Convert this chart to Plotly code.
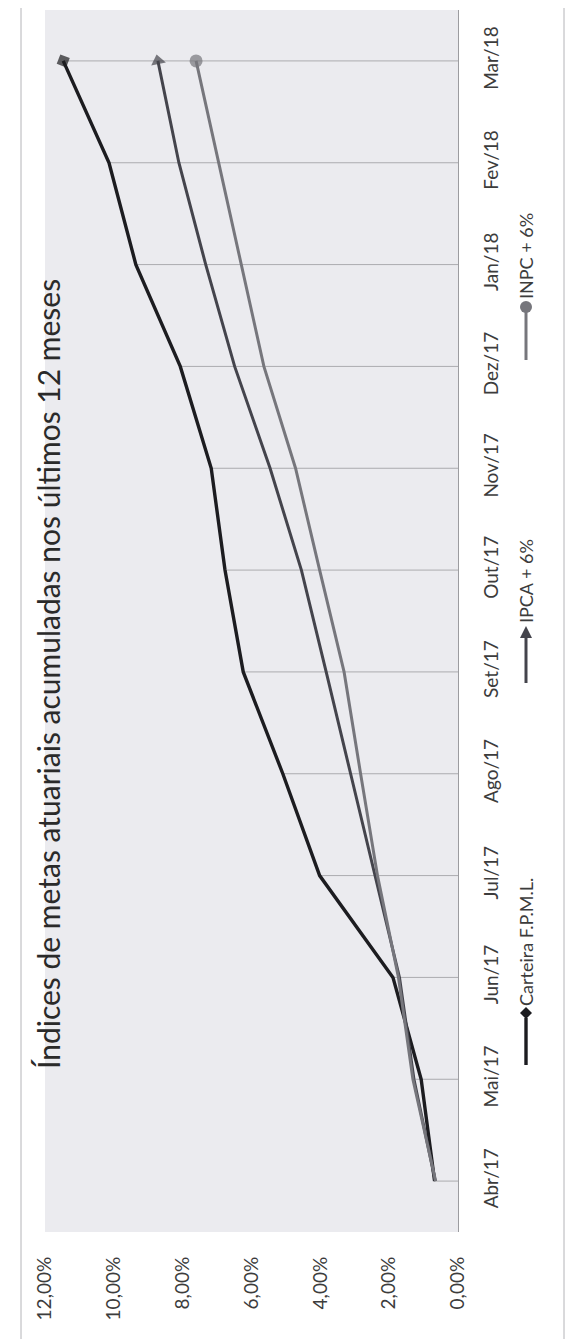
import plotly.graph_objects as go

# ---------------- data ----------------
categories = ["Abr/17", "Mai/17", "Jun/17", "Jul/17", "Ago/17", "Set/17",
              "Out/17", "Nov/17", "Dez/17", "Jan/18", "Fev/18", "Mar/18"]
carteira = [0.68, 1.07, 1.89, 4.02, 5.09, 6.24, 6.77, 7.17, 8.07, 9.36, 10.14, 11.47]
ipca = [0.66, 1.28, 1.70, 2.42, 3.12, 3.83, 4.55, 5.46, 6.49, 7.33, 8.11, 8.72]
inpc = [0.65, 1.31, 1.73, 2.34, 2.83, 3.31, 4.02, 4.72, 5.64, 6.29, 6.95, 7.61]
value_ticks = [0, 2, 4, 6, 8, 10, 12]
value_tick_labels = ["0,00%", "2,00%", "4,00%", "6,00%", "8,00%", "10,00%", "12,00%"]
series_names = ["Carteira F.P.M.L.", "IPCA + 6%", "INPC + 6%"]
title_text = "Índices de metas atuariais acumuladas nos últimos 12 meses"

# ---------------- layout geometry ----------------
W, H = 573, 1339
L_PX, R_PX, T_PX, B_PX = 37, 450, 2, 1224
FONT = "Lato, 'Open Sans', sans-serif"


def px_x(px):
    return (px - L_PX) / (R_PX - L_PX)


def px_y(py):
    return (B_PX - py) / (B_PX - T_PX)


fig = go.Figure()

# drop lines: from the highest series value down to the category axis
peaks = [max(a, b, c) for a, b, c in zip(carteira, ipca, inpc)]
drop_x, drop_y = [], []
for cat, pk in zip(categories, peaks):
    drop_x += [pk, 0, None]
    drop_y += [cat, cat, None]
fig.add_trace(go.Scatter(x=drop_x, y=drop_y, mode="lines",
                         line=dict(color="#ababaf", width=1),
                         hoverinfo="skip", showlegend=False))

styles = [
    dict(color="#1c1c20", width=3.4, symbol="diamond", size=11),
    dict(color="#44444c", width=3.0, symbol="triangle-up", size=13),
    dict(color="#76767c", width=3.0, symbol="circle", size=13),
]
n = len(categories)
for name, vals, st in zip(series_names, [carteira, ipca, inpc], styles):
    fig.add_trace(go.Scatter(
        x=vals, y=categories, name=name, mode="lines+markers",
        line=dict(color=st["color"], width=st["width"]),
        marker=dict(symbol=st["symbol"], size=[0] * (n - 1) + [st["size"]],
                    color=st["color"], angleref="previous",
                    line=dict(width=0)),
        showlegend=False,
    ))

fig.update_xaxes(
    range=[12, 0], tickvals=value_ticks, ticktext=value_tick_labels,
    tickangle=-90, showgrid=False, zeroline=False, showline=False, ticks="",
    ticklabelstandoff=20, tickfont=dict(family=FONT, size=19, color="#3c3c3c"),
    fixedrange=True,
)
fig.update_yaxes(
    type="category", categoryorder="array", categoryarray=categories,
    range=[-0.5, n - 0.5], side="right", tickangle=-90,
    showgrid=False, zeroline=False, showline=True, linecolor="#9c9ca0",
    linewidth=1, ticks="", ticklabelstandoff=16,
    tickfont=dict(family=FONT, size=19, color="#3c3c3c"), fixedrange=True,
)

annotations = [
    dict(text=title_text, textangle=-90, xref="paper", yref="paper",
         x=px_x(40), y=px_y(666), xanchor="center", yanchor="middle",
         showarrow=False, font=dict(family=FONT, size=30, color="#2a2a2a")),
]

# legend (rotated, like the rest of the chart)
LEG_X = 518
legend_rows = [
    # (line bottom, line top, text start)
    (1057, 1010, 1000),
    (675, 630, 617),
    (352, 304, 293),
]
shapes = []
for (yb, yt, ts), name, st in zip(legend_rows, series_names, styles):
    shapes.append(dict(type="line", xref="paper", yref="paper",
                       x0=px_x(LEG_X), x1=px_x(LEG_X), y0=px_y(yb), y1=px_y(yt),
                       line=dict(color=st["color"], width=st["width"])))
    c = yt - 5
    if st["symbol"] == "diamond":
        path = (f"M {px_x(LEG_X)} {px_y(c - 6)} L {px_x(LEG_X + 6)} {px_y(c)} "
                f"L {px_x(LEG_X)} {px_y(c + 6)} L {px_x(LEG_X - 6)} {px_y(c)} Z")
        shapes.append(dict(type="path", xref="paper", yref="paper", path=path,
                           fillcolor=st["color"], line=dict(width=0)))
    elif st["symbol"] == "triangle-up":
        path = (f"M {px_x(LEG_X)} {px_y(c - 7)} L {px_x(LEG_X + 6)} {px_y(c + 5)} "
                f"L {px_x(LEG_X - 6)} {px_y(c + 5)} Z")
        shapes.append(dict(type="path", xref="paper", yref="paper", path=path,
                           fillcolor=st["color"], line=dict(width=0)))
    else:
        shapes.append(dict(type="circle", xref="paper", yref="paper",
                           x0=px_x(LEG_X - 6), x1=px_x(LEG_X + 6),
                           y0=px_y(c + 6), y1=px_y(c - 6),
                           fillcolor=st["color"], line=dict(width=0)))
    annotations.append(dict(text=name, textangle=-90, xref="paper", yref="paper",
                            x=px_x(LEG_X), y=px_y(ts), xanchor="center",
                            yanchor="bottom", showarrow=False,
                            font=dict(family=FONT, size=18, color="#3c3c3c")))

# outer chart border
border_col = "#b4b4b8"
for x0, y0, x1, y1 in [(13, 0, 13, 1337), (13, 1337, 556, 1337), (556, 0, 556, 1337)]:
    shapes.append(dict(type="line", xref="paper", yref="paper",
                       x0=px_x(x0), x1=px_x(x1), y0=px_y(y0), y1=px_y(y1),
                       line=dict(color=border_col, width=1)))

fig.update_layout(
    width=W, height=H,
    margin=dict(l=L_PX, r=W - R_PX, t=T_PX, b=H - B_PX, autoexpand=False),
    paper_bgcolor="white", plot_bgcolor="#ebebef",
    annotations=annotations, shapes=shapes, showlegend=False,
    font=dict(family=FONT),
)

fig.write_html("out.html")
